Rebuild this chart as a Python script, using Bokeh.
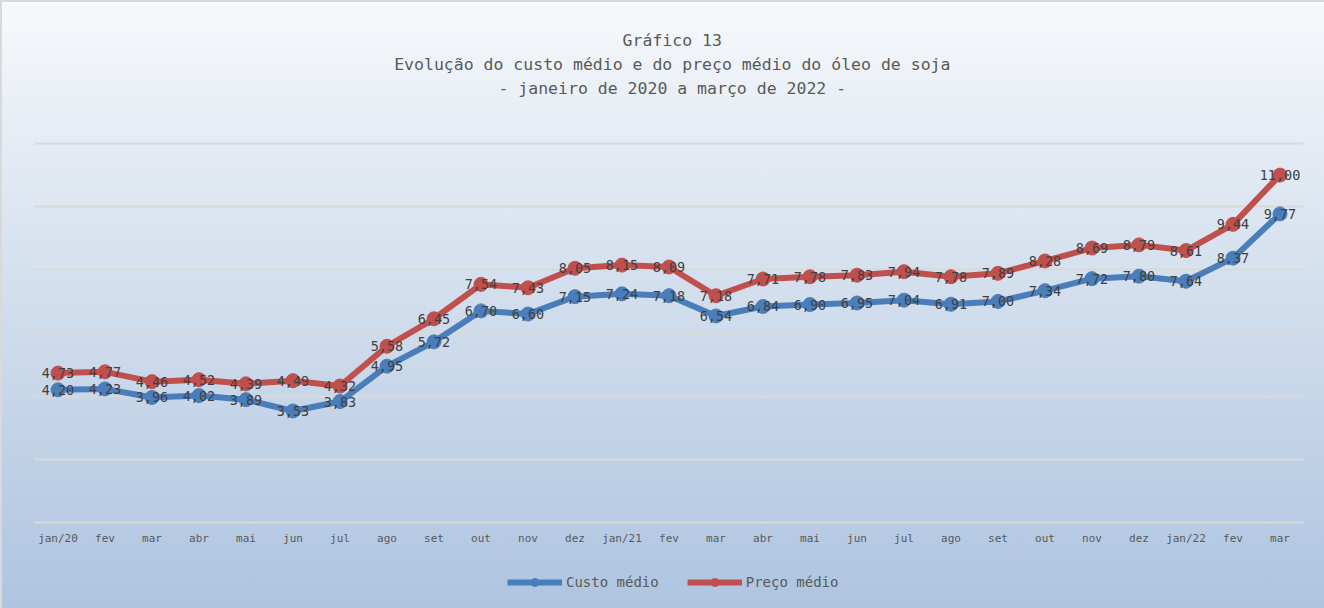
from bokeh.plotting import figure
from bokeh.models import (Range1d, LinearAxis, FixedTicker, Grid, ColumnDataSource,
                          LabelSet, Label, Legend, LegendItem)
from bokeh.embed import file_html
from bokeh.resources import INLINE
from bokeh.core.properties import value

months = ["jan/20", "fev", "mar", "abr", "mai", "jun", "jul", "ago", "set", "out", "nov", "dez",
          "jan/21", "fev", "mar", "abr", "mai", "jun", "jul", "ago", "set", "out", "nov", "dez",
          "jan/22", "fev", "mar"]
custo = [4.20, 4.23, 3.96, 4.02, 3.89, 3.53, 3.83, 4.95, 5.72, 6.70, 6.60, 7.15, 7.24, 7.18,
         6.54, 6.84, 6.90, 6.95, 7.04, 6.91, 7.00, 7.34, 7.72, 7.80, 7.64, 8.37, 9.77]
preco = [4.73, 4.77, 4.46, 4.52, 4.39, 4.49, 4.32, 5.58, 6.45, 7.54, 7.43, 8.05, 8.15, 8.09,
         7.18, 7.71, 7.78, 7.83, 7.94, 7.78, 7.89, 8.28, 8.69, 8.79, 8.61, 9.44, 11.00]
title_lines = ["Gráfico 13",
               "Evolução do custo médio e do preço médio do óleo de soja",
               "- janeiro de 2020 a março de 2022 -"]
series_names = ["Custo médio", "Preço médio"]
grid_values = [0, 2, 4, 6, 8, 10, 12]

BLUE = "#4a7ebb"
RED = "#c0504d"
MONO = "DejaVu Sans Mono"

xs = list(range(len(months)))

# vertical scale: 0 -> 522px, 12 -> 143px (page coords); frame spans full height
PX = (522 - 143) / 12.0
y_lo = -(608 - 522) / PX
y_hi = 12 + 143 / PX

p = figure(width=1324, height=608, output_backend="svg", toolbar_location=None,
           x_range=Range1d(-0.5, len(months) - 0.5), y_range=Range1d(y_lo, y_hi),
           x_axis_type=None, y_axis_type=None,
           min_border_left=34, min_border_right=21, min_border_top=0, min_border_bottom=0)
p.background_fill_alpha = 0
p.border_fill_alpha = 0
p.outline_line_color = None
p.styles = {"background-image": "linear-gradient(to bottom, #f7f9fc 0%, #e0e8f2 30%, #aec4e0 100%)",
            "box-shadow": "inset 2px 2px 0 #d9d9d9"}

xaxis = LinearAxis(ticker=FixedTicker(ticks=xs), fixed_location=0,
                   major_label_overrides={i: m for i, m in enumerate(months)})
xaxis.axis_line_color = None
xaxis.major_tick_line_color = None
xaxis.minor_tick_line_color = None
xaxis.major_label_text_font = MONO
xaxis.major_label_text_font_size = "11px"
xaxis.major_label_text_color = "#595959"
xaxis.major_label_standoff = 3
p.add_layout(xaxis, "below")

ygrid = Grid(dimension=1, ticker=FixedTicker(ticks=grid_values),
             grid_line_color="#d9d9d9", grid_line_width=2)
p.add_layout(ygrid)

src_c = ColumnDataSource(dict(x=xs, y=custo, t=[f"{v:.2f}".replace(".", ",") for v in custo]))
src_p = ColumnDataSource(dict(x=xs, y=preco, t=[f"{v:.2f}".replace(".", ",") for v in preco]))

l1 = p.line("x", "y", source=src_c, line_color=BLUE, line_width=6, line_join="round")
s1 = p.scatter("x", "y", source=src_c, size=14, fill_color=BLUE, line_color=BLUE)
l2 = p.line("x", "y", source=src_p, line_color=RED, line_width=6, line_join="round")
s2 = p.scatter("x", "y", source=src_p, size=14, fill_color=RED, line_color=RED)

for src in (src_c, src_p):
    p.add_layout(LabelSet(x="x", y="y", text="t", source=src, text_align="center",
                          text_baseline="middle", text_font=value(MONO),
                          text_font_size="13.5px", text_color="#404040"))

for ypx, txt in zip([40, 64, 88], title_lines):
    p.add_layout(Label(x=13.07, y=(522 - ypx) / PX, text=txt, text_align="center",
                       text_baseline="middle", text_font=MONO, text_font_size="16.5px",
                       text_color="#595959"))

legend = Legend(items=[LegendItem(label=series_names[0], renderers=[l1, s1]),
                       LegendItem(label=series_names[1], renderers=[l2, s2])],
                location=(473, 16), orientation="horizontal", margin=0,
                padding=0, spacing=28, glyph_width=55, glyph_height=20, label_standoff=4,
                border_line_color=None, background_fill_alpha=0,
                label_text_font=MONO, label_text_font_size="14px", label_text_color="#595959")
p.add_layout(legend)

open("out.html", "w").write(file_html(p, INLINE))
